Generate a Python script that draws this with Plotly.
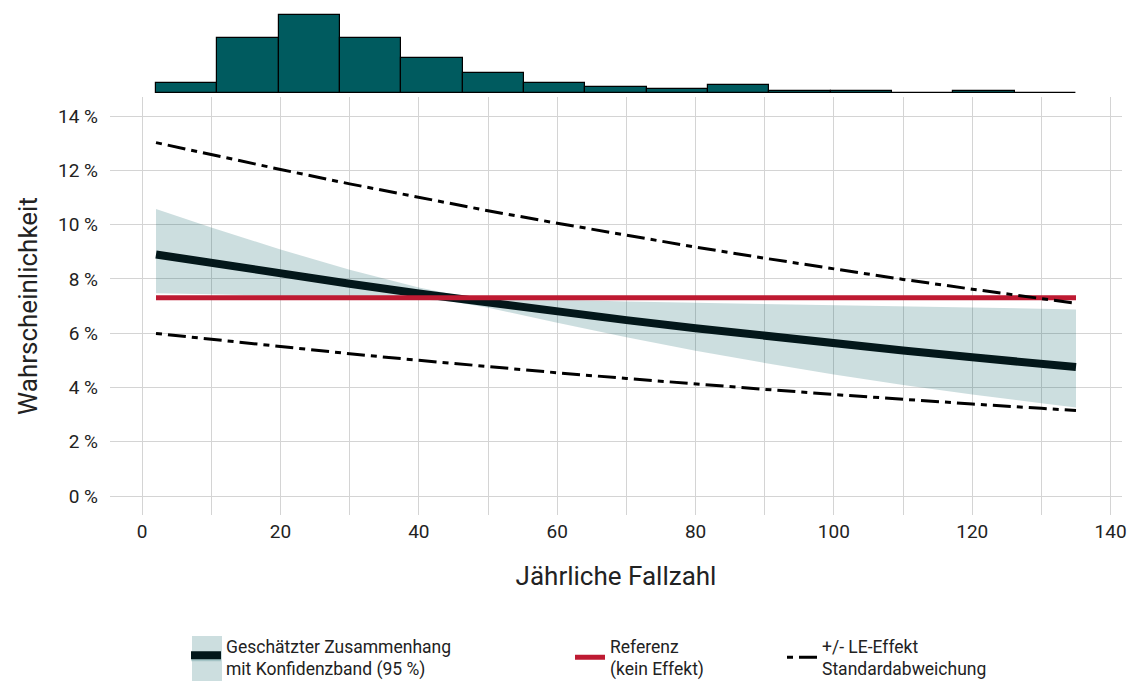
import numpy as np
import plotly.graph_objects as go

# ---- data ----
fallzahl = [2, 10, 20, 30, 40, 45, 50, 60, 70, 80, 90, 100, 110, 120, 130, 135]
schaetzung = [8.90, 8.58, 8.19, 7.82, 7.46, 7.29, 7.12, 6.79, 6.48, 6.18, 5.89, 5.62, 5.36, 5.11, 4.87, 4.75]
ki_oben = [10.57, 9.89, 9.08, 8.34, 7.68, 7.42, 7.31, 7.23, 7.17, 7.12, 7.08, 7.03, 6.99, 6.94, 6.90, 6.87]
ki_unten = [7.47, 7.43, 7.38, 7.32, 7.25, 7.16, 6.94, 6.38, 5.85, 5.35, 4.90, 4.48, 4.09, 3.74, 3.42, 3.26]
sd_oben = [13.02, 12.57, 12.03, 11.50, 11.00, 10.75, 10.51, 10.05, 9.60, 9.17, 8.76, 8.36, 7.98, 7.62, 7.27, 7.10]
sd_unten = [5.99, 5.77, 5.50, 5.24, 5.00, 4.88, 4.76, 4.54, 4.33, 4.12, 3.93, 3.74, 3.56, 3.39, 3.23, 3.15]
referenz = 7.3

hist_counts = [5, 27, 38, 27, 17, 10, 5, 3, 2, 4, 1, 1, 0, 1, 0]
hist_min, hist_max = 2, 135

x_ticks = [0, 20, 40, 60, 80, 100, 120, 140]
y_ticks = [0, 2, 4, 6, 8, 10, 12, 14]
y_ticktext = ["0 %", "2 %", "4 %", "6 %", "8 %", "10 %", "12 %", "14 %"]

# ---- styles ----
TEAL = "#005b5f"
BAND = "rgba(0,91,95,0.20)"
DARK = "#03171a"
RED = "#be1a32"
GRID = "#d4d4d4"
TXT = "#222222"
FONT = "Roboto"
DASH = "6px,6px,18px,6px"

edges = np.linspace(hist_min, hist_max, len(hist_counts) + 1)
centers = (edges[:-1] + edges[1:]) / 2
binw = edges[1] - edges[0]

fig = go.Figure()

# histogram on top panel
fig.add_trace(go.Bar(x=centers, y=hist_counts, width=binw, xaxis="x2", yaxis="y2",
                     marker=dict(color=TEAL, line=dict(color="black", width=1.2)),
                     showlegend=False, hoverinfo="skip"))

# confidence band
fig.add_trace(go.Scatter(x=fallzahl + fallzahl[::-1], y=ki_oben + ki_unten[::-1],
                         fill="toself", fillcolor=BAND, line=dict(width=0),
                         mode="lines", showlegend=False, hoverinfo="skip"))
# estimate
fig.add_trace(go.Scatter(x=fallzahl, y=schaetzung, mode="lines",
                         line=dict(color=DARK, width=8), showlegend=False))
# reference
fig.add_trace(go.Scatter(x=[fallzahl[0], fallzahl[-1]], y=[referenz, referenz], mode="lines",
                         line=dict(color=RED, width=5),
                         name="Referenz<br>(kein Effekt)", legend="legend2"))
# sd lines
fig.add_trace(go.Scatter(x=fallzahl, y=sd_oben, mode="lines",
                         line=dict(color="black", width=3, dash=DASH),
                         name="+/- LE-Effekt<br>Standardabweichung", legend="legend3"))
fig.add_trace(go.Scatter(x=fallzahl, y=sd_unten, mode="lines",
                         line=dict(color="black", width=3, dash=DASH),
                         showlegend=False))
# legend entry for band + estimate
fig.add_trace(go.Scatter(x=[None], y=[None], mode="lines", fill="toself", fillcolor=BAND,
                         line=dict(color=DARK, width=8),
                         name="Geschätzter Zusammenhang<br>mit Konfidenzband (95 %)",
                         legend="legend"))

FW, FH = 1136, 681
ML, MR, MT, MB = 110, 14, 0, 166
H = FH - MT - MB
W = FW - ML - MR
XR = [-4.65, 141.65]


def py(p):
    # pixel row -> paper y
    return (H - p) / H


def px(p):
    return (p - ML) / W


legend_common = dict(orientation="v", yanchor="top", xanchor="left",
                     font=dict(family=FONT, size=17.5, color=TXT),
                     bgcolor="rgba(0,0,0,0)", valign="middle")

fig.update_layout(
    template="none",
    width=FW, height=FH,
    margin=dict(l=ML, r=MR, t=MT, b=MB, pad=0, autoexpand=False),
    plot_bgcolor="white", paper_bgcolor="white",
    font=dict(family=FONT, color=TXT),
    bargap=0,
    xaxis=dict(range=XR, tickvals=x_ticks, showgrid=True, gridcolor=GRID,
               gridwidth=1.4, minor=dict(dtick=10, showgrid=True, gridcolor=GRID, gridwidth=1.2),
               zeroline=False, showline=False, ticks="", automargin=False,
               ticklabelstandoff=3,
               tickfont=dict(size=19, family=FONT, color=TXT),
               title=dict(text="Jährliche Fallzahl", font=dict(size=26, family=FONT, color=TXT),
                          standoff=24)),
    xaxis2=dict(range=XR, anchor="y2", visible=False, showgrid=False, matches="x"),
    yaxis=dict(domain=[0, py(97)], range=[-0.7, 14.7], tickvals=y_ticks, ticktext=y_ticktext,
               showgrid=True, gridcolor=GRID, gridwidth=1.4, zeroline=False, showline=False,
               ticks="", automargin=False, ticklabelstandoff=11,
               tickfont=dict(size=19, family=FONT, color=TXT),
               title=dict(text="Wahrscheinlichkeit", font=dict(size=26, family=FONT, color=TXT),
                          standoff=12)),
    yaxis2=dict(domain=[py(93), py(10.9)], range=[0, 40], visible=False, anchor="x2",
                showgrid=False),
    legend=dict(x=px(186), y=py(628), **legend_common),
    legend2=dict(x=px(570), y=py(628), **legend_common),
    legend3=dict(x=px(782), y=py(628), **legend_common),
    shapes=[dict(type="rect", xref="paper", yref="paper", layer="above",
                 x0=px(192), x1=px(222), y0=py(686), y1=py(636),
                 fillcolor=BAND, line=dict(width=0))],
)

fig.write_html("out.html", config={"displayModeBar": False},
               post_script="document.body.style.margin='0';document.body.style.overflow='hidden';")
